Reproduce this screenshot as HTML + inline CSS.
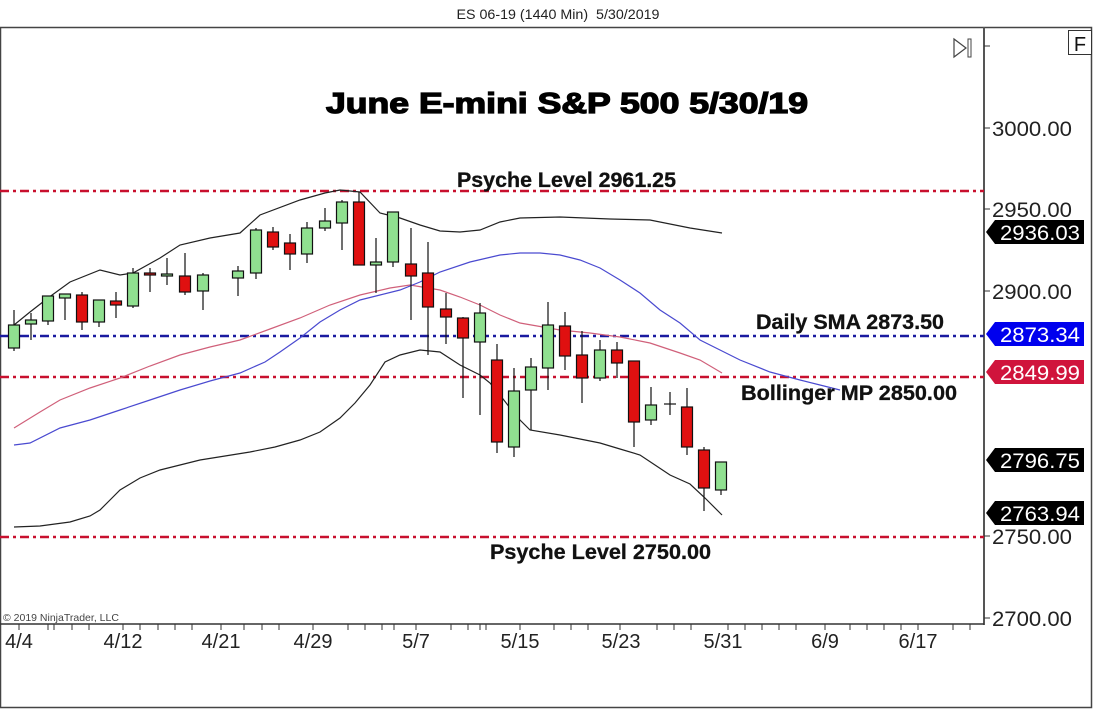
<!DOCTYPE html>
<html><head><meta charset="utf-8"><style>
html,body{margin:0;padding:0;background:#fff;}
svg{display:block;font-family:"Liberation Sans",Arial,sans-serif;}
</style></head><body>
<svg width="1094" height="711" viewBox="0 0 1094 711" xmlns="http://www.w3.org/2000/svg">
<rect width="1094" height="711" fill="#fff"/>
<text x="558" y="19" font-size="14" text-anchor="middle" fill="#222" textLength="203" lengthAdjust="spacingAndGlyphs" xml:space="preserve">ES 06-19 (1440 Min)  5/30/2019</text>
<rect x="0.5" y="27.5" width="1091" height="680" fill="none" stroke="#444" stroke-width="1.5"/>
<line x1="984" y1="27" x2="984" y2="625" stroke="#555" stroke-width="2"/>
<line x1="0" y1="624" x2="984" y2="624" stroke="#333" stroke-width="1.5"/>
<rect x="1068.5" y="30.5" width="23" height="24" fill="#fff" stroke="#333"/>
<text x="1080" y="51" font-size="20" text-anchor="middle" fill="#111">F</text>
<polygon points="954,39 954,57 966,48" fill="none" stroke="#444" stroke-width="1.2"/>
<rect x="968" y="39" width="3" height="18" fill="none" stroke="#444" stroke-width="1"/>
<g stroke="#333" stroke-width="1">
<line x1="984" y1="46" x2="990" y2="46"/>
<line x1="984" y1="128" x2="990" y2="128"/>
<line x1="984" y1="209" x2="990" y2="209"/>
<line x1="984" y1="291" x2="990" y2="291"/>
<line x1="984" y1="536" x2="990" y2="536"/>
<line x1="984" y1="618" x2="990" y2="618"/>
</g>
<g font-size="21" fill="#222">
<text x="992" y="136" textLength="80" lengthAdjust="spacingAndGlyphs">3000.00</text>
<text x="992" y="217" textLength="80" lengthAdjust="spacingAndGlyphs">2950.00</text>
<text x="992" y="299" textLength="80" lengthAdjust="spacingAndGlyphs">2900.00</text>
<text x="992" y="544" textLength="80" lengthAdjust="spacingAndGlyphs">2750.00</text>
<text x="992" y="626" textLength="80" lengthAdjust="spacingAndGlyphs">2700.00</text>
</g>
<g fill="none" stroke-width="2.5" stroke-dasharray="9,4,3,4">
<line x1="0" y1="191" x2="984" y2="191" stroke="#c8102e"/>
<line x1="0" y1="336" x2="984" y2="336" stroke="#1a1aa0"/>
<line x1="0" y1="377" x2="984" y2="377" stroke="#c8102e"/>
<line x1="0" y1="537" x2="984" y2="537" stroke="#c8102e"/>
</g>
<polyline fill="none" stroke="#222" stroke-width="1.2" points="14,325 30,312 48,298 70,282 100,270 120,275 133,273 160,258 180,245 210,238 240,233 260,215 300,200 325,193 340,190 360,192 380,213 400,218 420,225 440,231 460,232 480,230 500,222 520,218 560,217 610,219 650,220 690,228 722,233"/>
<polyline fill="none" stroke="#d0607a" stroke-width="1.2" points="14,428 40,412 60,400 90,388 120,378 150,366 180,355 210,347 240,340 270,329 300,318 330,305 360,295 390,288 410,285 440,290 460,297 480,305 500,315 520,323 560,330 590,333 620,337 650,343 680,353 700,360 722,373"/>
<polyline fill="none" stroke="#4a4ad0" stroke-width="1.2" points="14,445 30,443 60,428 90,420 120,410 150,400 180,390 210,381 240,373 265,362 280,352 300,338 320,322 340,310 360,300 380,295 400,290 420,282 440,272 470,262 500,255 520,253 540,253 560,255 580,260 600,268 620,280 640,293 660,310 680,323 700,340 720,350 740,360 770,372 800,380 820,385 840,390"/>
<polyline fill="none" stroke="#222" stroke-width="1.2" points="14,527 40,526 70,522 90,516 100,510 110,500 120,490 140,478 160,470 180,465 200,460 225,456 250,452 275,447 300,440 320,432 340,418 355,403 370,385 385,362 400,355 420,350 440,352 460,365 480,375 490,383 500,395 510,408 520,420 530,430 560,435 600,443 620,449 640,455 655,465 670,475 690,484 705,498 722,515"/>
<g stroke="#111" stroke-width="1.2">
<line x1="14" y1="310" x2="14" y2="351"/><rect x="8.5" y="325" width="11" height="23" fill="#90e090"/>
<line x1="31" y1="313" x2="31" y2="340"/><rect x="25.5" y="320" width="11" height="4" fill="#90e090"/>
<line x1="48" y1="296" x2="48" y2="325"/><rect x="42.5" y="296" width="11" height="25" fill="#90e090"/>
<line x1="65" y1="294" x2="65" y2="320"/><rect x="59.5" y="294" width="11" height="4" fill="#90e090"/>
<line x1="82" y1="292" x2="82" y2="330"/><rect x="76.5" y="295" width="11" height="27" fill="#e01010"/>
<line x1="99" y1="300" x2="99" y2="327"/><rect x="93.5" y="300" width="11" height="22" fill="#90e090"/>
<line x1="116" y1="292" x2="116" y2="318"/><rect x="110.5" y="301" width="11" height="4" fill="#e01010"/>
<line x1="133" y1="268" x2="133" y2="308"/><rect x="127.5" y="273" width="11" height="33" fill="#90e090"/>
<line x1="150" y1="268" x2="150" y2="292"/><rect x="144.5" y="273" width="11" height="2" fill="#e01010"/>
<line x1="167" y1="258" x2="167" y2="285"/><rect x="161.5" y="274" width="11" height="2" fill="#90e090"/>
<line x1="185" y1="253" x2="185" y2="295"/><rect x="179.5" y="276" width="11" height="16" fill="#e01010"/>
<line x1="203" y1="273" x2="203" y2="310"/><rect x="197.5" y="275" width="11" height="16" fill="#90e090"/>
<line x1="238" y1="266" x2="238" y2="296"/><rect x="232.5" y="271" width="11" height="7" fill="#90e090"/>
<line x1="256" y1="228" x2="256" y2="279"/><rect x="250.5" y="230" width="11" height="43" fill="#90e090"/>
<line x1="273" y1="227" x2="273" y2="250"/><rect x="267.5" y="232" width="11" height="15" fill="#e01010"/>
<line x1="290" y1="234" x2="290" y2="270"/><rect x="284.5" y="243" width="11" height="11" fill="#e01010"/>
<line x1="307" y1="222" x2="307" y2="263"/><rect x="301.5" y="228" width="11" height="26" fill="#90e090"/>
<line x1="325" y1="208" x2="325" y2="231"/><rect x="319.5" y="221" width="11" height="7" fill="#90e090"/>
<line x1="342" y1="200" x2="342" y2="250"/><rect x="336.5" y="202" width="11" height="21" fill="#90e090"/>
<line x1="359" y1="192" x2="359" y2="265"/><rect x="353.5" y="202" width="11" height="63" fill="#e01010"/>
<line x1="376" y1="238" x2="376" y2="293"/><rect x="370.5" y="262" width="11" height="3" fill="#90e090"/>
<line x1="393" y1="212" x2="393" y2="267"/><rect x="387.5" y="212" width="11" height="50" fill="#90e090"/>
<line x1="411" y1="228" x2="411" y2="320"/><rect x="405.5" y="264" width="11" height="12" fill="#e01010"/>
<line x1="428" y1="242" x2="428" y2="355"/><rect x="422.5" y="273" width="11" height="34" fill="#e01010"/>
<line x1="446" y1="293" x2="446" y2="344"/><rect x="440.5" y="309" width="11" height="8" fill="#e01010"/>
<line x1="463" y1="317" x2="463" y2="398"/><rect x="457.5" y="318" width="11" height="20" fill="#e01010"/>
<line x1="480" y1="303" x2="480" y2="415"/><rect x="474.5" y="313" width="11" height="29" fill="#90e090"/>
<line x1="497" y1="344" x2="497" y2="453"/><rect x="491.5" y="360" width="11" height="82" fill="#e01010"/>
<line x1="514" y1="368" x2="514" y2="457"/><rect x="508.5" y="391" width="11" height="56" fill="#90e090"/>
<line x1="531" y1="358" x2="531" y2="430"/><rect x="525.5" y="367" width="11" height="23" fill="#90e090"/>
<line x1="548" y1="302" x2="548" y2="390"/><rect x="542.5" y="325" width="11" height="43" fill="#90e090"/>
<line x1="565" y1="312" x2="565" y2="370"/><rect x="559.5" y="326" width="11" height="30" fill="#e01010"/>
<line x1="582" y1="331" x2="582" y2="403"/><rect x="576.5" y="355" width="11" height="23" fill="#e01010"/>
<line x1="600" y1="340" x2="600" y2="381"/><rect x="594.5" y="350" width="11" height="28" fill="#90e090"/>
<line x1="617" y1="342" x2="617" y2="378"/><rect x="611.5" y="350" width="11" height="13" fill="#e01010"/>
<line x1="634" y1="361" x2="634" y2="447"/><rect x="628.5" y="361" width="11" height="61" fill="#e01010"/>
<line x1="651" y1="387" x2="651" y2="425"/><rect x="645.5" y="405" width="11" height="15" fill="#90e090"/>
<line x1="670" y1="392" x2="670" y2="415"/><line x1="664" y1="404" x2="676" y2="404"/>
<line x1="687" y1="388" x2="687" y2="455"/><rect x="681.5" y="407" width="11" height="40" fill="#e01010"/>
<line x1="704" y1="447" x2="704" y2="511"/><rect x="698.5" y="450" width="11" height="38" fill="#e01010"/>
<line x1="721" y1="462" x2="721" y2="495"/><rect x="715.5" y="462" width="11" height="28" fill="#90e090"/>
</g>
<text x="567" y="113" font-size="29" font-weight="bold" text-anchor="middle" fill="#000" stroke="#000" stroke-width="1.3" textLength="482" lengthAdjust="spacingAndGlyphs">June E-mini S&amp;P 500 5/30/19</text>
<g font-size="21" font-weight="bold" fill="#111" stroke="#111" stroke-width="0.3">
<text x="457" y="187" textLength="219" lengthAdjust="spacingAndGlyphs">Psyche Level 2961.25</text>
<text x="756" y="329" textLength="188" lengthAdjust="spacingAndGlyphs">Daily SMA 2873.50</text>
<text x="741" y="400" textLength="216" lengthAdjust="spacingAndGlyphs">Bollinger MP 2850.00</text>
<text x="490" y="559" textLength="221" lengthAdjust="spacingAndGlyphs">Psyche Level 2750.00</text>
</g>
<g font-size="21" fill="#fff">
<polygon points="986,232 995,220 1084,220 1084,244 995,244" fill="#000"/><text x="1000" y="240" textLength="80" lengthAdjust="spacingAndGlyphs">2936.03</text>
<polygon points="986,334 995,322 1084,322 1084,346 995,346" fill="#0000ee"/><text x="1000" y="342" textLength="80" lengthAdjust="spacingAndGlyphs">2873.34</text>
<polygon points="986,372 995,360 1084,360 1084,384 995,384" fill="#d0143c"/><text x="1000" y="380" textLength="80" lengthAdjust="spacingAndGlyphs">2849.99</text>
<polygon points="986,460 995,448 1084,448 1084,472 995,472" fill="#000"/><text x="1000" y="468" textLength="80" lengthAdjust="spacingAndGlyphs">2796.75</text>
<polygon points="986,513 995,501 1084,501 1084,525 995,525" fill="#000"/><text x="1000" y="521" textLength="80" lengthAdjust="spacingAndGlyphs">2763.94</text>
</g>
<g stroke="#333" stroke-width="1">
<line x1="19" y1="624" x2="19" y2="630"/><line x1="48" y1="624" x2="48" y2="630"/><line x1="54" y1="624" x2="54" y2="630"/><line x1="72" y1="624" x2="72" y2="630"/><line x1="89" y1="624" x2="89" y2="630"/><line x1="123" y1="624" x2="123" y2="630"/><line x1="140" y1="624" x2="140" y2="630"/><line x1="158" y1="624" x2="158" y2="630"/><line x1="175" y1="624" x2="175" y2="630"/><line x1="192" y1="624" x2="192" y2="630"/><line x1="221" y1="624" x2="221" y2="630"/><line x1="244" y1="624" x2="244" y2="630"/><line x1="262" y1="624" x2="262" y2="630"/><line x1="279" y1="624" x2="279" y2="630"/><line x1="313" y1="624" x2="313" y2="630"/><line x1="348" y1="624" x2="348" y2="630"/><line x1="365" y1="624" x2="365" y2="630"/><line x1="382" y1="624" x2="382" y2="630"/><line x1="394" y1="624" x2="394" y2="630"/><line x1="416" y1="624" x2="416" y2="630"/><line x1="451" y1="624" x2="451" y2="630"/><line x1="468" y1="624" x2="468" y2="630"/><line x1="480" y1="624" x2="480" y2="630"/><line x1="486" y1="624" x2="486" y2="630"/><line x1="520" y1="624" x2="520" y2="630"/><line x1="554" y1="624" x2="554" y2="630"/><line x1="571" y1="624" x2="571" y2="630"/><line x1="588" y1="624" x2="588" y2="630"/><line x1="620" y1="624" x2="620" y2="630"/><line x1="657" y1="624" x2="657" y2="630"/><line x1="674" y1="624" x2="674" y2="630"/><line x1="691" y1="624" x2="691" y2="630"/><line x1="728" y1="624" x2="728" y2="630"/><line x1="745" y1="624" x2="745" y2="630"/><line x1="762" y1="624" x2="762" y2="630"/><line x1="779" y1="624" x2="779" y2="630"/><line x1="796" y1="624" x2="796" y2="630"/><line x1="825" y1="624" x2="825" y2="630"/><line x1="850" y1="624" x2="850" y2="630"/><line x1="867" y1="624" x2="867" y2="630"/><line x1="884" y1="624" x2="884" y2="630"/><line x1="901" y1="624" x2="901" y2="630"/><line x1="918" y1="624" x2="918" y2="630"/><line x1="953" y1="624" x2="953" y2="630"/><line x1="970" y1="624" x2="970" y2="630"/>
</g>
<g font-size="20" fill="#222" text-anchor="middle">
<text x="19" y="648">4/4</text>
<text x="123" y="648">4/12</text>
<text x="221" y="648">4/21</text>
<text x="313" y="648">4/29</text>
<text x="416" y="648">5/7</text>
<text x="520" y="648">5/15</text>
<text x="621" y="648">5/23</text>
<text x="723" y="648">5/31</text>
<text x="825" y="648">6/9</text>
<text x="918" y="648">6/17</text>
</g>
<text x="3" y="621" font-size="10.5" fill="#444">© 2019 NinjaTrader, LLC</text>
</svg>
</body></html>
